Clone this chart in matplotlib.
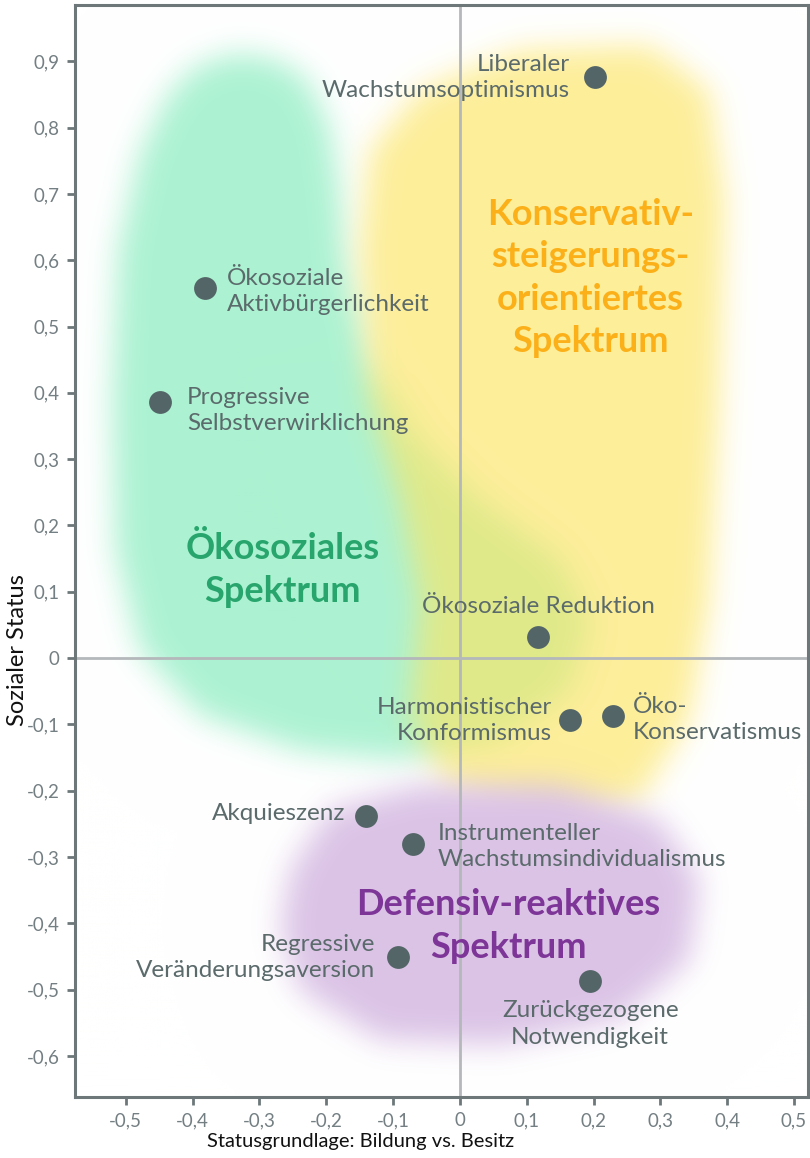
import numpy as np
import matplotlib
matplotlib.use("Agg")
import matplotlib.pyplot as plt
from matplotlib.path import Path
from matplotlib.ticker import FuncFormatter

# milieus (Bildung vs. Besitz, sozialer Status)
names = [
    "Liberaler\nWachstumsoptimismus",
    "Ökosoziale\nAktivbürgerlichkeit",
    "Progressive\nSelbstverwirklichung",
    "Ökosoziale Reduktion",
    "Harmonistischer\nKonformismus",
    "Öko-\nKonservatismus",
    "Akquieszenz",
    "Instrumenteller\nWachstumsindividualismus",
    "Regressive\nVeränderungsaversion",
    "Zurückgezogene\nNotwendigkeit",
]
x_vals = [0.202, -0.382, -0.449, 0.117, 0.165, 0.229, -0.141, -0.070, -0.093, 0.195]
y_vals = [0.876, 0.558, 0.386, 0.032, -0.094, -0.087, -0.238, -0.281, -0.451, -0.487]

# label offsets in pixels (dx, dy, ha)
label_pos = [(-25, 0, "right"), (22, -3, "left"), (27, -8, "left"), (0, 30, "center"),
             (-18, 0, "right"), (20, -4, "left"), (-20, 2, "right"), (25, -2, "left"),
             (-23, 0, "right"), (0, -43, "center")]

# spectrum outlines (rough, will be blurred)
green_x = [-0.400, -0.340, -0.280, -0.230, -0.195, -0.180, -0.172, -0.135, -0.060, 0.030,
           0.150, 0.195, 0.165, 0.060, -0.090, -0.240, -0.389, -0.479, -0.516, -0.521,
           -0.512, -0.480, -0.440]
green_y = [0.890, 0.912, 0.905, 0.875, 0.800, 0.700, 0.600, 0.449, 0.329, 0.238,
           0.148, 0.057, -0.048, -0.124, -0.154, -0.139, -0.086, 0.012, 0.163, 0.389,
           0.615, 0.760, 0.845]
yellow_x = [-0.060, 0.090, 0.284, 0.374, 0.397, 0.389, 0.374, 0.344, 0.269, 0.135,
            -0.015, -0.075, -0.060, -0.090, -0.135, -0.150, -0.135]
yellow_y = [0.857, 0.917, 0.925, 0.857, 0.691, 0.389, 0.087, -0.094, -0.214, -0.244,
            -0.199, -0.094, 0.087, 0.238, 0.389, 0.615, 0.766]
purple_x = [-0.254, -0.195, -0.060, 0.150, 0.299, 0.359, 0.344, 0.240, 0.060, -0.120,
            -0.240, -0.269]
purple_y = [-0.320, -0.229, -0.192, -0.192, -0.244, -0.335, -0.456, -0.546, -0.584,
            -0.576, -0.501, -0.410]

x_ticks = [-0.5, -0.4, -0.3, -0.2, -0.1, 0, 0.1, 0.2, 0.3, 0.4, 0.5]
y_ticks = [-0.6, -0.5, -0.4, -0.3, -0.2, -0.1, 0, 0.1, 0.2, 0.3, 0.4, 0.5, 0.6, 0.7, 0.8, 0.9]

XMIN, XMAX = -0.576, 0.521
YMIN, YMAX = -0.662, 0.985

plt.rcParams["font.family"] = ["Lato", "DejaVu Sans"]

fig = plt.figure(figsize=(8.1, 11.58), dpi=100)
ax = fig.add_axes([75 / 810, 61 / 1158, 733 / 810, 1092 / 1158])
ax.set_xlim(XMIN, XMAX)
ax.set_ylim(YMIN, YMAX)


def blur(mask, sigma):
    pad = int(4 * sigma)
    m = np.pad(mask, pad)
    fy = np.fft.fftfreq(m.shape[0])[:, None]
    fx = np.fft.rfftfreq(m.shape[1])[None, :]
    k = np.exp(-2 * np.pi ** 2 * sigma ** 2 * (fx ** 2 + fy ** 2))
    out = np.fft.irfft2(np.fft.rfft2(m) * k, s=m.shape)
    return np.clip(out[pad:-pad, pad:-pad], 0, 1)


# background blobs rendered as one rgb image
W, H = 733, 1092
gx = np.linspace(XMIN, XMAX, W)
gy = np.linspace(YMIN, YMAX, H)
GX, GY = np.meshgrid(gx, gy)
pts = np.column_stack([GX.ravel(), GY.ravel()])
img = np.ones((H, W, 3))
layers = [
    (green_x, green_y, (172, 242, 210), 1.0),
    (yellow_x, yellow_y, (252, 229, 100), 0.65),
    (purple_x, purple_y, (219, 195, 230), 1.0),
]
for px, py, col, amax in layers:
    mask = Path(np.column_stack([px, py])).contains_points(pts).reshape(H, W).astype(float)
    a = blur(mask, 15)[..., None] * amax
    img = img * (1 - a) + np.array(col) / 255 * a
ax.imshow(img, extent=(XMIN, XMAX, YMIN, YMAX), origin="lower", aspect="auto",
          interpolation="bilinear", zorder=0)

ax.axhline(0, color="#b4b8ba", lw=2, zorder=1)
ax.axvline(0, color="#b4b8ba", lw=2, zorder=1)

ax.scatter(x_vals, y_vals, s=270, color="#536567", zorder=3, linewidths=0)
for name, x, y, (dx, dy, ha) in zip(names, x_vals, y_vals, label_pos):
    ax.annotate(name, (x, y), xytext=(dx * 0.72, dy * 0.72), textcoords="offset points",
                ha=ha, va="center", multialignment=ha, fontsize=17.5,
                color="#5b6a6b", linespacing=1.3, zorder=4)

ax.text(0.195, 0.573, "Konservativ-\nsteigerungs-\norientiertes\nSpektrum", ha="center",
        va="center", fontsize=26, fontweight="bold", color="#fbb01a", linespacing=1.35,
        zorder=4)
ax.text(-0.265, 0.133, "Ökosoziales\nSpektrum", ha="center", va="center", fontsize=26,
        fontweight="bold", color="#27a56c", linespacing=1.35, zorder=4)
ax.text(0.072, -0.404, "Defensiv-reaktives\nSpektrum", ha="center", va="center",
        fontsize=26, fontweight="bold", color="#7d3597", linespacing=1.35, zorder=4)

fmt = FuncFormatter(lambda v, p: "0" if abs(v) < 1e-9 else f"{v:.1f}".replace(".", ","))
ax.set_xticks(x_ticks)
ax.set_yticks(y_ticks)
ax.xaxis.set_major_formatter(fmt)
ax.yaxis.set_major_formatter(fmt)
ax.tick_params(colors="#6d777a", labelcolor="#747f83", labelsize=13.5, length=6,
               width=2, pad=5)
for s in ax.spines.values():
    s.set_color("#6d777a")
    s.set_linewidth(2.2)

fig.text(361 / 810, 1 - 1141 / 1158, "Statusgrundlage: Bildung vs. Besitz",
         ha="center", va="center", fontsize=14.5, color="#111111")
fig.text(18 / 810, 1 - 650 / 1158, "Sozialer Status", ha="center", va="center",
         rotation=90, fontsize=17, color="#111111")

fig.savefig("out.png", dpi=100)
